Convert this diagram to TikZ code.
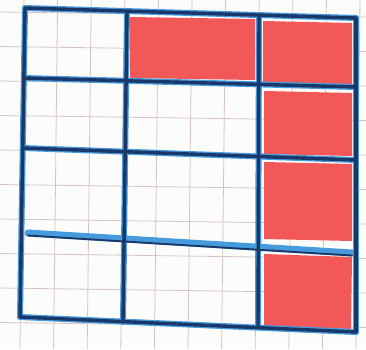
\documentclass[tikz,border=0pt]{standalone}
\definecolor{gridpink}{RGB}{215,195,195}
\definecolor{paperwhite}{RGB}{252,252,250}
\definecolor{lightblue}{RGB}{70,155,220}
\definecolor{darkblue}{RGB}{25,55,105}
\definecolor{redfill}{RGB}{242,88,88}
\begin{document}
\begin{tikzpicture}[x=1pt,y=-1pt,
  paper/.style={draw=gridpink, line width=0.8pt},
  halo/.style={draw=lightblue, line width=6pt, line cap=round},
  ink/.style={draw=darkblue, line width=3.4pt, line cap=round},
  paleink/.style={draw=darkblue, line width=1.8pt, line cap=round},
  redcell/.style={fill=redfill, draw=none}]
\fill[paperwhite] (0,0) rectangle (366,349);
\useasboundingbox (0,0) rectangle (366,349);
% graph paper
\foreach \gx in {24,57.6,91.2,124.8,158.4,192,225.6,259.2,292.8,326.4,360}
  \draw[paper] (\gx,0) -- ({\gx-4},349);
\foreach \gy in {12,46.5,81,115.5,150,184.5,219,253.5,288,322.5}
  \draw[paper] (0,\gy) -- (366,{\gy+5});
% intersections
\coordinate (a0) at (25,8);  \coordinate (b0) at (127,11);  \coordinate (c0) at (259,15);  \coordinate (d0) at (356,18);
\coordinate (a1) at (24,78); \coordinate (b1) at (126,81);  \coordinate (c1) at (259,84);  \coordinate (d1) at (356,87);
\coordinate (a2) at (23,148);\coordinate (b2) at (125,152); \coordinate (c2) at (258,156); \coordinate (d2) at (356,160);
\coordinate (a3) at (28,233);\coordinate (b3) at (124,239); \coordinate (c3) at (258,246); \coordinate (d3) at (352,253);
\coordinate (a4) at (20,317);\coordinate (b4) at (123,322); \coordinate (c4) at (258,327); \coordinate (d4) at (356,332);
% red cells
\fill[redcell] (130,17) -- (255,19) -- (255,80) -- (130,78) -- cycle;
\fill[redcell] (263,21) -- (352,23) -- (352,85) -- (263,83) -- cycle;
\fill[redcell] (264,91) -- (352,93) -- (352,156) -- (264,154) -- cycle;
\fill[redcell] (264,162) -- (352,164) -- (352,241) -- (264,239) -- cycle;
\fill[redcell] (264,254) -- (352,257) -- (351,329) -- (264,326) -- cycle;
% light halos
\draw[halo] (a0) -- (a4);
\draw[halo] (b0) -- (b4);
\draw[halo] (c0) -- (c4);
\draw[halo] (d0) -- (d4);
\draw[halo] (a0) -- (d0);
\draw[halo] (a1) -- (d1);
\draw[halo] (a2) -- (d2);
\draw[halo, line width=7pt] (a3) -- (d3);
\draw[halo] (a4) -- (d4);
% dark ink
\draw[ink] (a0) -- (a4);
\draw[ink] (b0) -- (b4);
\draw[ink] (c0) -- (c4);
\draw[ink] (d0) -- (d4);
\draw[ink] (a0) -- (d0);
\draw[ink] (a1) -- (d1);
\draw[ink] (a2) -- (d2);
\draw[paleink] ([yshift=-2.5pt]a3) -- ([yshift=-2.5pt]d3);
\draw[ink] (a4) -- (d4);
\end{tikzpicture}
\end{document}
